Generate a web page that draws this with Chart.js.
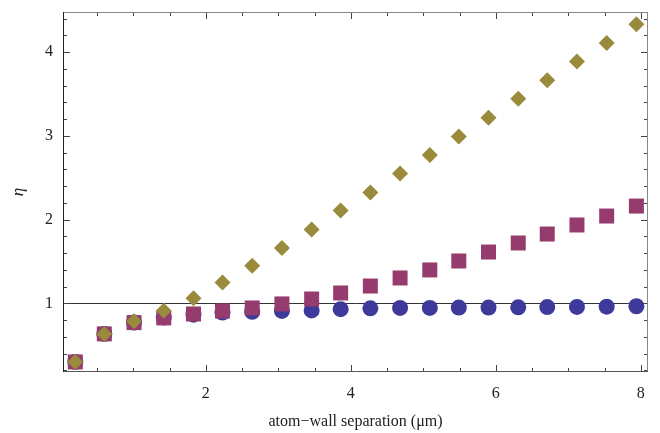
<!DOCTYPE html>
<html>
<head>
<meta charset="utf-8">
<script src="https://cdn.jsdelivr.net/npm/chart.js@4"></script>
<style>
html,body{margin:0;padding:0;background:#fff;}
#wrap{width:660px;height:433px;}
</style>
</head>
<body>
<div id="wrap"><canvas id="c" width="660" height="433"></canvas></div>
<script>
const separations = [0.2, 0.6, 1.01, 1.42, 1.83, 2.23, 2.64, 3.05, 3.46, 3.86, 4.27, 4.68, 5.09, 5.49, 5.9, 6.31, 6.71, 7.12, 7.53, 7.94];
const circleValues = [0.30, 0.635, 0.77, 0.83, 0.865, 0.89, 0.90, 0.91, 0.915, 0.93, 0.94, 0.945, 0.945, 0.95, 0.95, 0.952, 0.955, 0.957, 0.96, 0.965];
const squareValues = [0.30, 0.635, 0.77, 0.826, 0.873, 0.909, 0.945, 0.993, 1.052, 1.124, 1.207, 1.303, 1.399, 1.506, 1.613, 1.721, 1.828, 1.936, 2.043, 2.162];
const diamondValues = [0.30, 0.635, 0.785, 0.913, 1.06, 1.25, 1.45, 1.66, 1.883, 2.11, 2.325, 2.551, 2.771, 2.993, 3.216, 3.443, 3.666, 3.888, 4.111, 4.334];
const xMajorTicks = [2, 4, 6, 8];
const yMajorTicks = [1, 2, 3, 4];
const referenceLevel = 1;

function pts(vals){ return separations.map((x,i)=>({x:x, y:vals[i]})); }

const framePlugin = {
  id: 'frame',
  beforeDatasetsDraw(chart){
    const {ctx, chartArea:a, scales:{x, y}} = chart;
    const yr = y.getPixelForValue(referenceLevel);
    ctx.save();
    ctx.strokeStyle = '#333';
    ctx.lineWidth = 1;
    ctx.beginPath();
    ctx.moveTo(a.left, Math.round(yr)+0.5);
    ctx.lineTo(a.right, Math.round(yr)+0.5);
    ctx.stroke();
    ctx.restore();
  },
  afterDatasetsDraw(chart){
    const {ctx, chartArea:a, scales:{x, y}} = chart;
    ctx.save();
    ctx.lineWidth = 1;
    ctx.strokeStyle = '#444';
    ctx.beginPath();
    for (let k = 1; k <= 16; k++) {
      const v = k * 0.5;
      const len = (k % 4 === 0) ? 7 : 4;
      const px = Math.round(x.getPixelForValue(v)) + 0.5;
      ctx.moveTo(px, a.bottom); ctx.lineTo(px, a.bottom - len);
      ctx.moveTo(px, a.top); ctx.lineTo(px, a.top + len);
    }
    for (let k = 1; k <= 22; k++) {
      const v = k * 0.2;
      const len = (k % 5 === 0) ? 7 : 4;
      const py = Math.round(y.getPixelForValue(v)) + 0.5;
      ctx.moveTo(a.left, py); ctx.lineTo(a.left + len, py);
      ctx.moveTo(a.right, py); ctx.lineTo(a.right - len, py);
    }
    ctx.stroke();
    ctx.strokeStyle = '#888';
    ctx.beginPath();
    ctx.moveTo(a.left, a.top + 0.5); ctx.lineTo(a.right, a.top + 0.5);
    ctx.moveTo(a.right - 0.5, a.top); ctx.lineTo(a.right - 0.5, a.bottom);
    ctx.stroke();
    ctx.strokeStyle = '#555';
    ctx.beginPath();
    ctx.moveTo(a.left, a.bottom - 0.5); ctx.lineTo(a.right, a.bottom - 0.5);
    ctx.stroke();
    ctx.strokeStyle = '#222';
    ctx.beginPath();
    ctx.moveTo(a.left + 0.5, a.top); ctx.lineTo(a.left + 0.5, a.bottom);
    ctx.stroke();
    ctx.restore();
  }
};

new Chart(document.getElementById('c'), {
  type: 'scatter',
  data: {
    datasets: [
      { label: 'diamond', data: pts(diamondValues), pointStyle: 'rectRot', pointRadius: 8, pointHoverRadius: 8,
        backgroundColor: '#998a3c', borderWidth: 0, order: 0 },
      { label: 'square', data: pts(squareValues), pointStyle: 'rect', pointRadius: 10.6, pointHoverRadius: 10.6,
        backgroundColor: '#963b6d', borderWidth: 0, order: 1 },
      { label: 'circle', data: pts(circleValues), pointStyle: 'circle', pointRadius: 8, pointHoverRadius: 8,
        backgroundColor: '#3d3a9b', borderWidth: 0, order: 2 }
    ]
  },
  options: {
    responsive: false,
    animation: false,
    events: [],
    layout: { padding: { left: 0, right: 12, top: 12, bottom: 0 } },
    plugins: { legend: { display: false }, tooltip: { enabled: false } },
    scales: {
      x: {
        type: 'linear', min: 0.03, max: 8.1,
        afterBuildTicks: s => { s.ticks = xMajorTicks.map(v => ({ value: v })); },
        afterFit: s => { s.height = 61; s.paddingLeft = 0; s.paddingRight = 0; },
        grid: { display: false, drawTicks: false },
        border: { display: false },
        ticks: { color: '#222', padding: 12, maxRotation: 0, autoSkip: false,
          font: { family: 'Liberation Serif', size: 16 } },
        title: { display: true, text: 'atom\u2212wall separation (\u03bcm)', color: '#222',
          padding: { top: 0, bottom: 2 }, font: { family: 'Liberation Serif', size: 16 } }
      },
      y: {
        type: 'linear', min: 0.18, max: 4.48,
        afterBuildTicks: s => { s.ticks = yMajorTicks.map(v => ({ value: v })); },
        afterFit: s => { s.width = 63; s.paddingTop = 0; s.paddingBottom = 0; },
        grid: { display: false, drawTicks: false },
        border: { display: false },
        ticks: { color: '#222', padding: 10, autoSkip: false,
          font: { family: 'Liberation Serif', size: 16 } },
        title: { display: true, text: '\u03b7', color: '#222',
          padding: { top: 8, bottom: 0 }, font: { family: 'Liberation Serif', size: 17, style: 'italic' } }
      }
    }
  },
  plugins: [framePlugin]
});
</script>
</body>
</html>
